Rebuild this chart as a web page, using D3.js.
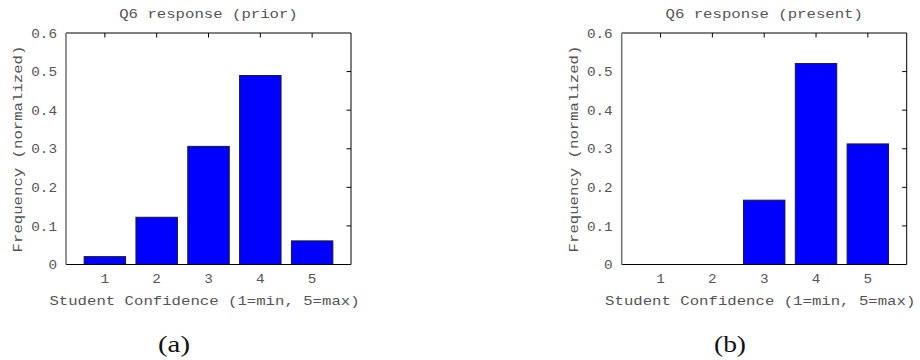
<!DOCTYPE html>
<html><head><meta charset="utf-8">
<script src="https://cdn.jsdelivr.net/npm/d3@7"></script>
<style>body{margin:0;background:#fff}svg{display:block}</style>
</head><body>
<script>
const categories = [1, 2, 3, 4, 5];
const priorValues = [0.0204, 0.1224, 0.3061, 0.4898, 0.0612];
const presentValues = [0, 0, 0.1667, 0.5208, 0.3125];
const yTicks = [0, 0.1, 0.2, 0.3, 0.4, 0.5, 0.6];
const yTickLabels = ["0", "0.1", "0.2", "0.3", "0.4", "0.5", "0.6"];
const titles = ["Q6 response (prior)", "Q6 response (present)"];
const xLabel = "Student Confidence (1=min, 5=max)";
const yLabel = "Frequency (normalized)";
const panelLetters = ["(a)", "(b)"];

const W = 920, H = 360;
const svg = d3.select("body").append("svg").attr("width", W).attr("height", H);
const mono = "'Liberation Mono', 'DejaVu Sans Mono', monospace";
const CW = 9.4; // char advance
const textCol = "#555";

function addText(g, str, x, y, opts = {}) {
  const t = g.append("text").attr("x", x).attr("y", y)
    .attr("font-family", mono).attr("font-size", opts.size || 13.5)
    .attr("fill", textCol).attr("text-anchor", opts.anchor || "middle")
    .attr("textLength", str.length * (opts.cw || CW))
    .attr("lengthAdjust", "spacingAndGlyphs")
    .text(str);
  if (opts.transform) t.attr("transform", opts.transform);
  if (opts.dy) t.attr("dy", opts.dy);
  return t;
}

function drawPanel(left, values, title, letter, letterX) {
  const right = left + 285;
  const top = 33, bottom = 264.5;
  const g = svg.append("g");
  const x = d3.scaleLinear().domain([0.25, 5.75]).range([left, right]);
  const y = d3.scaleLinear().domain([0, 0.6]).range([bottom, top]);

  // bars
  const bw = x(1.4) - x(0.6);
  g.selectAll("rect.bar").data(categories).enter().append("rect")
    .attr("class", "bar")
    .attr("x", d => x(d) - bw / 2)
    .attr("y", (d, i) => y(values[i]))
    .attr("width", bw)
    .attr("height", (d, i) => y(0) - y(values[i]))
    .attr("fill", "#0000ff")
    .attr("stroke", "#1a1a33").attr("stroke-width", 1);

  // frame
  g.append("line").attr("x1", left).attr("x2", right).attr("y1", top).attr("y2", top).attr("stroke", "#000");
  g.append("line").attr("x1", right).attr("x2", right).attr("y1", top).attr("y2", bottom).attr("stroke", "#000");
  g.append("line").attr("x1", left).attr("x2", right).attr("y1", bottom).attr("y2", bottom).attr("stroke", "#000");
  g.append("line").attr("x1", left).attr("x2", left).attr("y1", top).attr("y2", bottom).attr("stroke", "#777").attr("stroke-width", 1.6);

  // ticks: top (inward), right (inward)
  const tl = 4.5;
  categories.forEach(c => {
    g.append("line").attr("x1", x(c)).attr("x2", x(c)).attr("y1", top).attr("y2", top + tl).attr("stroke", "#000");
  });
  yTicks.forEach((v, i) => {
    if (i > 0 && i < yTicks.length - 1) {
      g.append("line").attr("x1", right).attr("x2", right - tl).attr("y1", y(v)).attr("y2", y(v)).attr("stroke", "#000");
    }
    addText(g, yTickLabels[i], left - 9, y(v), { anchor: "end", dy: "0.35em", cw: 8.6 });
  });
  categories.forEach(c => {
    addText(g, String(c), x(c), 283, { cw: 8.6 });
  });

  addText(g, title, (left + right) / 2, 18);
  addText(g, xLabel, (left + right) / 2 - 4, 305);
  addText(g, yLabel, 0, 0, { transform: `translate(${left - 44},149) rotate(-90)` });

  g.append("text").attr("x", letterX).attr("y", 352)
    .attr("font-family", "'Liberation Serif', 'DejaVu Serif', serif")
    .attr("font-size", 24).attr("fill", "#111").attr("text-anchor", "middle")
    .attr("textLength", 32).attr("lengthAdjust", "spacingAndGlyphs")
    .text(letter);
}

drawPanel(66, priorValues, titles[0], panelLetters[0], 174);
drawPanel(621.7, presentValues, titles[1], panelLetters[1], 730);
</script>
</body></html>
